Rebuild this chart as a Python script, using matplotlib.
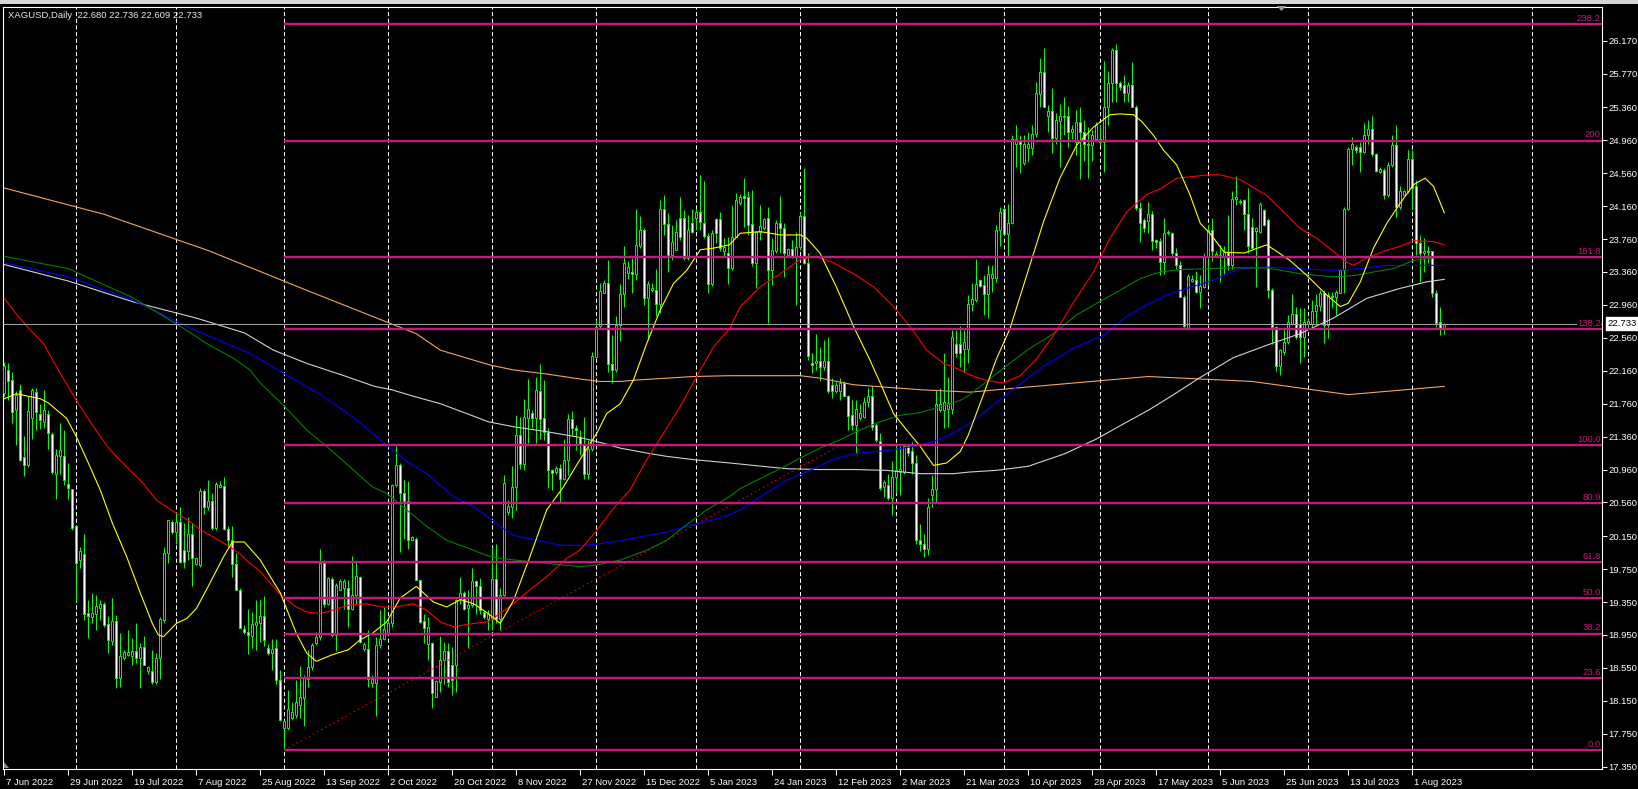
import matplotlib
matplotlib.use('Agg')
import matplotlib.pyplot as plt
from matplotlib.patches import Rectangle, Polygon
from matplotlib.transforms import ScaledTranslation
import numpy as np

plt.rcParams['font.family'] = ['Liberation Sans', 'DejaVu Sans']

symbol = "XAGUSD,Daily"

opens = [
21.89,22.17,22.05,21.68,21.93,21.11,21.01,21.59,21.90,21.63,
21.54,21.64,21.39,20.91,21.12,21.12,20.79,20.72,20.27,19.86,
19.93,19.22,19.17,19.20,19.28,19.33,19.08,18.88,19.12,18.43,
18.67,18.71,18.70,18.75,18.67,18.80,18.51,18.51,18.38,18.67,
19.13,19.95,20.32,20.20,20.32,19.98,19.97,20.18,19.81,19.80,
20.70,20.50,20.58,20.25,20.75,20.76,20.24,20.11,19.81,19.50,
19.02,18.99,18.94,19.07,19.10,19.18,18.79,18.73,18.79,18.40,
17.82,17.82,17.94,17.98,18.10,18.18,18.42,18.56,18.85,18.92,
19.83,19.33,19.63,18.95,19.50,19.52,19.52,19.27,19.44,19.66,
18.78,18.78,18.37,18.37,18.83,18.90,18.97,19.09,20.77,21.02,
20.67,20.58,20.10,20.12,19.62,19.12,18.84,18.85,18.20,18.38,
18.65,18.75,18.59,18.59,19.39,19.46,19.28,19.31,19.60,19.54,
19.23,19.15,19.14,19.63,19.15,19.44,20.44,20.51,20.75,21.38,
21.03,21.59,21.65,21.58,21.91,21.58,21.41,20.95,20.93,20.98,
20.84,21.08,21.57,21.47,21.35,21.27,20.91,21.21,22.33,22.70,
23.11,23.23,22.24,22.17,22.72,23.09,23.35,23.36,23.34,23.67,
23.87,23.04,23.14,23.14,22.97,24.12,23.94,23.57,23.63,24.01,
24.01,23.53,23.95,24.01,24.09,23.96,23.80,23.21,24.00,24.00,
23.61,23.59,23.41,23.79,24.20,24.28,24.27,23.94,23.47,23.84,
23.89,24.01,23.39,23.62,23.95,23.90,23.57,23.64,23.56,23.66,
24.04,23.47,22.26,22.26,22.28,22.20,22.28,21.99,21.92,21.91,
22.01,21.85,21.62,21.50,21.58,21.60,21.78,21.85,21.50,21.31,
20.75,20.77,20.61,20.87,20.93,20.93,21.24,21.18,21.04,20.10,
20.05,20.00,20.65,20.72,21.68,21.68,21.70,21.70,22.49,22.49,
22.42,22.42,22.97,23.02,23.26,23.20,23.09,23.29,23.29,23.87,
24.13,23.82,23.95,24.92,24.95,24.68,24.87,24.87,25.04,25.52,
25.79,25.26,25.32,24.99,25.19,25.24,25.25,25.06,24.94,25.18,
25.06,24.92,24.90,24.98,24.98,24.94,25.37,25.65,26.06,25.65,
25.63,25.54,25.63,25.37,24.14,23.99,23.98,24.07,23.75,23.74,
23.48,23.83,23.83,23.59,23.45,23.06,22.68,23.25,23.26,23.12,
23.18,23.54,23.87,23.56,23.55,23.55,23.60,23.44,24.25,24.21,
24.23,24.07,23.91,23.86,23.85,24.11,23.99,23.14,22.69,22.22,
22.39,22.51,22.73,22.85,22.73,22.57,22.73,22.73,22.88,22.95,
23.11,22.72,23.05,23.05,23.11,23.38,24.13,24.86,24.88,24.88,
24.82,25.03,25.10,24.79,24.57,24.60,24.29,24.66,24.90,24.15,
24.30,24.34,24.73,24.40,23.71,23.59,23.60,23.61,23.11,22.75,
22.680]

highs = [
22.27,22.25,22.14,21.91,22.00,21.37,21.85,21.95,21.95,21.76,
21.93,21.68,21.42,21.21,21.52,21.44,21.04,20.72,20.27,20.02,
20.18,19.38,19.46,19.43,19.37,19.35,19.18,19.40,19.19,18.97,
18.77,19.01,18.91,19.09,18.85,18.94,18.57,18.77,18.73,19.17,
20.02,20.35,20.35,20.45,20.51,20.31,20.38,20.31,19.88,20.73,
20.72,20.83,20.67,20.81,20.82,20.87,20.28,20.27,19.94,19.52,
19.07,19.27,19.23,19.37,19.39,19.42,18.84,18.90,18.90,18.53,
17.92,18.28,18.13,18.40,18.57,18.46,18.77,18.85,18.99,20.00,
19.86,19.66,19.66,19.58,19.63,19.63,19.62,19.91,19.85,19.67,
18.87,19.01,18.46,18.93,19.25,19.29,19.13,20.79,21.24,21.04,
20.83,20.82,20.15,20.14,19.62,19.21,19.17,18.87,18.40,18.94,
18.86,18.85,18.81,19.39,19.66,19.48,19.50,19.76,19.62,19.64,
19.25,19.25,20.02,20.06,19.52,20.89,20.59,21.00,21.62,21.60,
21.82,22.06,21.68,22.09,22.24,22.05,21.46,20.97,21.00,21.03,
21.33,21.64,21.67,21.50,21.44,21.60,21.32,22.39,22.78,23.22,
23.26,23.51,22.59,22.82,23.21,23.68,23.49,23.53,24.12,24.04,
23.89,23.25,23.22,23.40,24.24,24.30,24.08,23.93,23.99,24.27,
24.11,24.05,24.13,24.13,24.54,24.46,23.83,23.87,24.01,24.09,
23.77,23.79,24.17,24.32,24.31,24.50,24.34,24.36,23.86,24.17,
24.02,24.15,23.77,23.99,24.28,23.95,23.65,23.75,23.85,24.09,
24.62,23.59,22.37,22.61,22.45,22.53,22.57,22.07,22.02,22.07,
22.04,21.87,21.80,21.80,21.76,21.84,21.95,21.97,21.52,21.40,
20.83,20.91,21.06,21.24,21.24,21.27,21.26,21.30,21.14,20.30,
20.18,20.62,20.89,21.93,21.95,22.37,22.09,22.66,22.66,22.70,
22.66,23.08,23.22,23.52,23.28,23.32,23.44,23.44,23.93,24.15,
24.15,24.18,25.02,25.14,25.02,25.02,25.06,25.14,25.67,25.96,
26.08,25.39,25.59,25.29,25.40,25.49,25.38,25.15,25.33,25.36,
25.21,25.12,25.08,25.18,25.15,25.92,25.80,26.08,26.13,25.68,
25.75,25.67,25.91,25.39,24.21,24.02,24.21,24.10,23.76,23.77,
24.01,23.87,23.85,23.65,23.49,23.08,23.34,23.32,23.37,23.32,
23.59,23.93,24.01,23.61,23.69,23.67,24.05,24.34,24.52,24.25,
24.25,24.38,24.01,23.91,24.21,24.13,24.01,23.16,22.70,22.43,
22.67,22.84,23.09,22.94,22.92,22.92,22.79,23.02,23.09,23.14,
23.14,23.12,23.12,23.14,23.40,24.15,24.88,25.00,24.90,24.94,
25.17,25.21,25.25,24.80,24.63,24.62,24.70,25.03,25.15,24.41,
24.36,24.84,24.84,24.48,23.81,23.77,23.67,23.62,23.14,22.94,
22.736]

lows = [
21.85,21.80,21.53,21.26,21.06,20.88,20.99,21.33,21.44,21.45,
21.47,21.21,20.90,20.60,20.91,20.77,20.60,20.22,19.35,19.76,
19.13,18.91,19.09,19.01,19.13,19.05,18.73,18.83,18.30,18.32,
18.65,18.69,18.59,18.61,18.30,18.59,18.48,18.36,18.36,18.42,
19.09,19.83,20.18,20.06,19.82,19.76,19.86,19.54,19.80,19.78,
20.42,20.47,20.23,20.23,20.74,20.23,20.02,19.65,19.50,19.04,
18.96,18.72,18.79,18.77,18.87,18.82,18.71,18.52,18.36,17.90,
17.56,17.80,17.92,17.94,17.94,17.84,18.32,18.52,18.83,18.89,
19.29,19.31,18.93,18.75,19.50,19.27,19.05,19.25,19.33,18.85,
18.75,18.32,18.32,17.97,18.79,18.89,18.95,19.05,20.75,19.96,
20.12,19.99,20.10,19.62,19.09,18.85,18.65,18.06,18.20,18.26,
18.36,18.32,18.22,18.26,19.33,19.25,18.79,19.29,19.21,19.21,
19.15,19.01,19.01,19.09,19.01,19.42,20.41,20.37,20.47,20.97,
20.95,21.28,21.46,21.28,21.33,21.32,20.74,20.71,20.91,20.57,
20.83,20.89,21.38,21.20,21.14,20.85,20.85,21.18,22.31,22.67,
23.10,22.15,22.01,22.15,22.52,22.94,23.28,23.10,23.26,23.65,
22.96,22.55,23.12,22.82,22.86,23.81,23.36,23.50,23.63,23.75,
23.51,23.51,23.83,23.87,23.87,23.77,23.11,23.19,23.71,23.61,
23.55,23.21,23.38,23.78,24.17,23.91,23.81,23.43,23.16,23.75,
23.87,22.74,23.20,23.59,23.59,23.30,23.55,23.53,22.96,23.63,
23.46,22.29,22.13,22.17,22.03,22.17,21.89,21.83,21.89,21.80,
21.85,21.44,21.44,21.16,21.56,21.58,21.72,21.44,21.30,20.71,
20.63,20.59,20.41,20.67,20.65,20.91,21.12,20.91,20.05,19.97,
19.90,19.92,20.51,20.57,21.66,21.46,21.48,21.64,22.33,22.21,
22.15,22.25,22.88,23.00,23.18,22.84,22.80,23.12,23.24,23.68,
23.81,23.55,23.94,24.63,24.56,24.66,24.70,24.78,25.00,25.37,
25.36,25.06,24.80,24.92,24.63,25.02,24.88,24.98,24.78,24.49,
24.71,24.50,24.71,24.95,24.90,24.57,25.15,25.43,25.43,25.57,
25.43,25.43,25.36,24.11,23.72,23.85,23.83,23.63,23.65,23.32,
23.34,23.81,23.56,23.40,23.06,22.67,22.65,23.24,23.10,22.92,
23.16,23.20,23.49,23.55,23.24,23.34,23.38,23.40,24.17,24.18,
23.87,23.59,23.65,23.18,23.83,23.92,23.04,22.48,22.16,22.11,
22.35,22.49,22.72,22.55,22.25,22.33,22.67,22.67,22.72,22.88,
22.50,22.56,22.92,22.84,23.10,23.10,24.11,24.66,24.81,24.58,
24.80,24.92,24.77,24.57,24.56,24.25,24.27,24.64,24.03,24.13,
24.29,24.32,24.11,23.57,23.24,23.36,23.47,23.06,22.69,22.60,
22.609]

closes = [
22.22,22.03,21.66,21.87,21.08,21.02,21.67,21.93,21.66,21.56,
21.68,21.40,20.93,21.14,21.20,20.83,20.73,20.25,19.83,19.97,
19.20,19.18,19.22,19.30,19.33,19.07,18.89,19.12,18.43,18.69,
18.74,18.74,18.75,18.67,18.80,18.59,18.56,18.38,18.67,19.14,
19.95,20.35,20.20,20.32,19.84,19.84,20.18,19.89,19.88,20.70,
20.50,20.58,20.25,20.79,20.77,20.24,20.11,19.81,19.50,19.04,
18.99,18.95,19.08,19.11,19.18,18.89,18.73,18.78,18.40,17.92,
17.90,18.05,18.01,18.14,18.20,18.44,18.56,18.83,18.92,19.83,
19.33,19.64,18.95,19.56,19.60,19.60,19.27,19.44,19.67,18.86,
18.84,18.42,18.42,18.83,18.90,19.02,19.10,20.77,21.02,20.67,
20.58,20.11,20.14,19.62,19.11,19.04,19.05,18.25,18.39,18.65,
18.75,18.38,18.40,19.37,19.46,19.27,19.31,19.60,19.54,19.25,
19.17,19.21,19.63,19.14,19.44,20.80,20.52,20.75,21.38,21.03,
21.60,21.69,21.58,21.93,21.57,21.41,20.95,20.92,20.98,20.85,
21.08,21.57,21.47,21.44,21.27,20.91,21.21,22.34,22.69,23.13,
23.23,22.24,22.17,22.72,23.09,23.47,23.42,23.33,23.69,23.87,
23.04,23.21,23.17,22.97,24.12,23.94,23.57,23.73,23.85,23.79,
23.53,23.87,23.85,24.09,23.97,23.80,23.21,23.83,23.83,23.65,
23.66,23.41,23.79,24.24,24.27,24.26,23.93,23.47,23.84,23.92,
24.00,23.39,23.63,23.96,23.90,23.59,23.64,23.56,23.66,24.04,
23.47,22.34,22.23,22.28,22.20,22.28,21.92,21.92,21.99,22.01,
21.85,21.61,21.50,21.70,21.65,21.78,21.85,21.48,21.32,20.74,
20.81,20.61,20.87,20.95,20.97,21.25,21.16,21.04,20.10,20.05,
20.00,20.51,20.72,21.76,21.76,21.78,21.77,22.57,22.37,22.38,
22.51,22.97,23.03,23.21,23.19,23.09,23.33,23.33,23.87,24.09,
23.82,23.95,24.97,24.97,24.91,24.92,24.92,25.04,25.53,25.79,
25.37,25.32,24.99,25.21,25.25,25.25,25.06,25.10,25.18,25.06,
24.91,24.90,25.03,25.15,24.94,25.37,25.65,26.06,25.65,25.61,
25.54,25.63,25.37,24.14,23.96,23.90,24.07,23.74,23.72,23.48,
23.83,23.85,23.59,23.44,23.06,22.70,23.31,23.28,23.12,23.19,
23.55,23.87,23.61,23.58,23.57,23.60,23.44,24.25,24.27,24.22,
24.07,23.67,23.65,23.90,24.18,23.93,23.14,22.69,22.22,22.41,
22.51,22.75,22.85,22.57,22.57,22.75,22.76,22.89,22.96,23.11,
22.72,23.08,23.07,23.12,23.38,24.13,24.86,24.92,24.84,24.82,
25.03,25.10,24.79,24.59,24.61,24.29,24.66,24.90,24.15,24.34,
24.34,24.73,24.38,23.71,23.59,23.61,23.61,23.11,22.74,22.68,
22.733]

# moving averages (bar index, value)
ma_yellow_x = [0, 3, 9, 11, 15.6, 18, 21, 24, 27, 30.6, 34, 37, 38.5, 39.8, 43, 45.6, 48, 51.4, 54.8, 57,
               60, 64, 69, 73, 75.6, 78, 82, 86, 88.9, 92, 95.6, 99, 103, 107.3, 110.6, 114, 117.3, 121,
               124, 127.3, 131.4, 135.6, 139.8, 143.9, 148.1, 150.6, 154, 157.3, 160.6, 164, 167.3, 170.6,
               174, 177.3, 181.3, 184, 189, 194, 199, 200.6, 203.9, 208, 212.3, 216.4, 219, 222.3, 225.6,
               229, 232.3, 235.6, 239, 241, 245, 248, 251.4, 255.6, 259.8, 263.9, 268.1, 272.3, 276.4, 279,
               282.3, 284.3, 287.3, 289.8, 293.1, 296.4, 299, 301.4, 305, 310, 315.6, 318.1, 321.4, 325.6,
               330.6, 334, 336, 339, 342.3, 345.6, 348.9, 352.3, 355.2, 357.3, 360]
ma_yellow_y = [21.82, 21.88, 21.82, 21.77, 21.58, 21.36, 21.04, 20.71, 20.31, 19.90, 19.46, 19.09, 18.95, 18.93,
               19.09, 19.15, 19.27, 19.58, 19.90, 20.08, 20.08, 19.86, 19.46, 18.97, 18.73, 18.63, 18.71, 18.77,
               18.89, 18.97, 19.11, 19.40, 19.54, 19.35, 19.29, 19.38, 19.33, 19.21, 19.09, 19.37, 19.90, 20.47,
               20.75, 21.08, 21.40, 21.64, 21.76, 22.05, 22.49, 22.90, 23.22, 23.38, 23.63, 23.65, 23.69, 23.83,
               23.85, 23.81, 23.81, 23.77, 23.59, 23.18, 22.70, 22.29, 22.01, 21.64, 21.44, 21.24, 21.01, 21.04,
               21.18, 21.38, 21.90, 22.30, 22.67, 23.32, 23.97, 24.50, 24.90, 25.12, 25.27, 25.28, 25.27, 25.19,
               25.02, 24.84, 24.66, 24.30, 23.95, 23.83, 23.60, 23.59, 23.69, 23.61, 23.50, 23.32, 23.08, 22.94,
               22.98, 23.24, 23.65, 23.95, 24.19, 24.42, 24.50, 24.40, 24.08]

ma_red_x = [0, 3, 6.4, 9.8, 14, 18, 22.3, 26.4, 30.6, 34.8, 38, 42.3, 46.4, 48.9, 52.3, 56.4, 59, 61.4, 64, 69,
            73, 75.6, 79, 82, 86, 90.3, 94.4, 98, 102.3, 105.6, 109, 112.3, 117.3, 121, 127.3, 131.4, 135.6,
            140.6, 143.9, 148.1, 152.3, 156.4, 160.6, 164.8, 168.9, 173.1, 177.3, 181.3, 184, 189, 194, 199,
            203, 207.3, 212.3, 217.3, 222.3, 226.4, 230.6, 234.8, 239, 241.4, 245, 249.7, 254, 258, 262.3,
            267.3, 272.3, 276.4, 280.6, 285.6, 289, 293.1, 297.3, 301, 304, 309, 315.6, 319.8, 323.9, 328.1,
            332.3, 334.8, 337.3, 340.6, 344.8, 348.9, 352.3, 357.3, 360]
ma_red_y = [23.04, 22.85, 22.66, 22.49, 22.13, 21.80, 21.48, 21.20, 20.99, 20.79, 20.59, 20.45, 20.33, 20.23,
            20.14, 20.02, 19.93, 19.82, 19.72, 19.44, 19.29, 19.23, 19.21, 19.25, 19.31, 19.33, 19.29, 19.29,
            19.33, 19.25, 19.11, 19.05, 19.09, 19.11, 19.33, 19.50, 19.66, 19.88, 19.98, 20.22, 20.49, 20.71,
            21.08, 21.40, 21.72, 22.09, 22.45, 22.67, 22.94, 23.18, 23.34, 23.51, 23.55, 23.47, 23.34, 23.18,
            22.94, 22.70, 22.41, 22.25, 22.17, 22.11, 22.05, 22.01, 22.10, 22.30, 22.59, 22.99, 23.36, 23.77,
            24.09, 24.30, 24.37, 24.50, 24.52, 24.54, 24.54, 24.48, 24.29, 24.09, 23.89, 23.77, 23.61, 23.50,
            23.44, 23.53, 23.61, 23.67, 23.74, 23.73, 23.69]

ma_green_x = [0, 16, 32, 44, 50.6, 57.3, 61.4, 64, 69.8, 75.6, 80.6, 86, 92, 95.6, 100.6, 105.6, 110.6, 117.3,
              121, 124, 135.6, 143.9, 148.1, 154, 160.6, 165.6, 170.6, 175.6, 181.3, 184, 189, 194, 199, 203.9,
              208.9, 213.9, 218.9, 223.9, 228.9, 233.9, 239, 241.4, 250, 256, 262.3, 268.1, 273.9, 279, 284,
              289, 294, 301, 307.3, 315.6, 323.9, 332.3, 338.1, 342.3, 347.3, 352.3, 357.3, 360]
ma_green_y = [23.55, 23.40, 23.05, 22.70, 22.49, 22.31, 22.17, 22.01, 21.74, 21.44, 21.24, 21.01, 20.75, 20.67,
              20.47, 20.27, 20.10, 19.98, 19.91, 19.88, 19.82, 19.78, 19.80, 19.86, 19.98, 20.10, 20.29, 20.47,
              20.63, 20.73, 20.85, 20.97, 21.10, 21.22, 21.32, 21.44, 21.54, 21.62, 21.65, 21.72, 21.80, 21.87,
              22.20, 22.42, 22.61, 22.84, 23.00, 23.14, 23.28, 23.36, 23.39, 23.40, 23.41, 23.41, 23.34, 23.30,
              23.32, 23.36, 23.40, 23.50, 23.53, 23.55]

ma_blue_x = [0, 16, 32, 47.3, 55.6, 61.4, 69.8, 79.8, 88.1, 94, 100.6, 105.6, 112.3, 117.3, 121, 124, 127.3,
             132.3, 139, 145.6, 152.3, 158.9, 165.6, 172.3, 177.3, 181.3, 184, 189, 195.6, 202.3, 208.1, 213.9,
             220.6, 227.3, 232.3, 237.3, 241.4, 250, 260, 268, 274.8, 280.6, 285.6, 290.6, 295.6, 301, 304, 309,
             315.6, 323.9, 332.3, 339, 345.6, 352.3, 360]
ma_blue_y = [23.47, 23.30, 23.02, 22.66, 22.49, 22.37, 22.13, 21.85, 21.56, 21.32, 21.06, 20.91, 20.63, 20.51,
             20.38, 20.27, 20.16, 20.11, 20.04, 20.04, 20.08, 20.14, 20.20, 20.29, 20.35, 20.41, 20.47, 20.63,
             20.83, 20.97, 21.10, 21.16, 21.19, 21.24, 21.30, 21.40, 21.52, 21.85, 22.22, 22.45, 22.59, 22.82,
             22.96, 23.08, 23.16, 23.24, 23.30, 23.40, 23.42, 23.40, 23.38, 23.40, 23.44, 23.44, 23.44]

ma_white_x = [0, 16, 32, 48, 60, 67.3, 75.6, 84.3, 92.6, 96.8, 102.3, 109, 115.6, 121, 127.3, 135.6, 143.9,
              149.7, 154, 160.6, 165.6, 172.3, 181.3, 187.3, 195.6, 203.9, 212.3, 220.6, 228.9, 237.3, 241.4,
              248, 256, 265, 273, 280, 286, 292, 299, 307.3, 315.6, 323.9, 332.3, 340.6, 348.9, 355.6, 360]
ma_white_y = [23.45, 23.25, 23.00, 22.80, 22.62, 22.41, 22.25, 22.11, 21.97, 21.93, 21.85, 21.76, 21.64, 21.54,
              21.48, 21.42, 21.35, 21.28, 21.22, 21.16, 21.12, 21.08, 21.04, 21.01, 20.97, 20.96, 20.96, 20.95,
              20.91, 20.91, 20.93, 20.95, 21.00, 21.15, 21.33, 21.52, 21.68, 21.86, 22.08, 22.32, 22.47, 22.61,
              22.80, 23.04, 23.16, 23.24, 23.27]

ma_orange_x = [0, 25, 51, 77, 103, 109, 121.4, 127.3, 135.6, 143.9, 148.9, 154, 158.9, 165.6, 172.3, 181.3,
               199, 203.9, 212.3, 220.6, 228.9, 237.3, 241.4, 260, 286, 312, 336, 360]
ma_orange_y = [24.38, 24.06, 23.62, 23.11, 22.61, 22.41, 22.23, 22.17, 22.12, 22.06, 22.03, 22.03, 22.05, 22.07,
               22.09, 22.10, 22.10, 22.07, 21.99, 21.96, 21.93, 21.91, 21.90, 21.98, 22.09, 22.03, 21.87, 21.97]

fib_levels = [0.0, 23.6, 38.2, 50.0, 61.8, 80.9, 100.0, 138.2, 161.8, 200.0, 238.2]
fib_labels = ['0.0', '23.6', '38.2', '50.0', '61.8', '80.9', '100.0', '138.2', '161.8', '200', '238.2']
fib_low, fib_high = 17.553, 21.255
fib_bar_low, fib_bar_high = 70, 209

date_labels = ['7 Jun 2022', '29 Jun 2022', '19 Jul 2022', '7 Aug 2022', '25 Aug 2022', '13 Sep 2022',
               '2 Oct 2022', '20 Oct 2022', '8 Nov 2022', '27 Nov 2022', '15 Dec 2022', '5 Jan 2023',
               '24 Jan 2023', '12 Feb 2023', '2 Mar 2023', '21 Mar 2023', '10 Apr 2023', '28 Apr 2023',
               '17 May 2023', '5 Jun 2023', '25 Jun 2023', '13 Jul 2023', '1 Aug 2023']
bars_per_label = 16
month_start_bars = [18, 43, 70, 96, 122, 148, 173, 199, 223, 250, 274, 301, 326, 352, 382]
price_ticks = [26.17, 25.77, 25.36, 24.96, 24.56, 24.16, 23.76, 23.36, 22.96, 22.56, 22.16, 21.76,
               21.36, 20.96, 20.56, 20.15, 19.75, 19.35, 18.95, 18.55, 18.15, 17.75, 17.35]

# ---------------------------------------------------------------- figure
W, H = 1638, 789
fig = plt.figure(figsize=(W / 100, H / 100), dpi=100, facecolor='black')
L, R, T, B = 3, 1601.7, 7, 769
ax = fig.add_axes([L / W, 1 - B / H, (R - L) / W, (B - T) / H])
ax.set_facecolor('black')
ax.set_xlim(-0.33, 399.35)
ax.set_ylim(17.322, 26.579)
for s in ax.spines.values():
    s.set_color('white')
    s.set_linewidth(0.8)

FS = 6.8
GREEN = '#00ff00'
FIB = '#c8157f'

# grid (month separators)
for g in month_start_bars:
    ax.axvline(g, color='white', lw=0.75, ls=(0, (4, 2.4)), zorder=1)

# candles
n = min(len(opens), len(highs), len(lows), len(closes))
o = np.array(opens[:n]); h = np.array(highs[:n]); l = np.array(lows[:n]); c = np.array(closes[:n])
x = np.arange(n)
lo = np.minimum(l, np.minimum(o, c))
hi = np.maximum(h, np.maximum(o, c))
ax.vlines(x, lo, hi, color=GREEN, lw=0.75, zorder=3)
bull = c >= o
ax.bar(x, np.abs(c - o), bottom=np.minimum(o, c), width=0.55,
       color=np.where(bull, 'black', 'white'), edgecolor=GREEN, linewidth=0.7, zorder=4)

# moving averages
for mx, my, col in [(ma_orange_x, ma_orange_y, '#f4a460'), (ma_white_x, ma_white_y, '#d0d0d0'),
                    (ma_blue_x, ma_blue_y, '#0000ff'), (ma_green_x, ma_green_y, '#008000'),
                    (ma_red_x, ma_red_y, '#ff0000'), (ma_yellow_x, ma_yellow_y, '#ffff00')]:
    ax.plot(mx, my, color=col, lw=0.8, zorder=5)

# current price line
last_close = closes[-1]
ax.axhline(last_close, color='#a0a0a0', lw=0.75, zorder=5)

# fibonacci
ax.plot([fib_bar_low, fib_bar_high], [fib_low, fib_high], color='#ff0000', lw=0.8,
        ls=(0, (1.2, 3)), zorder=6)
for lev, lab in zip(fib_levels, fib_labels):
    p = fib_low + lev / 100.0 * (fib_high - fib_low)
    ax.hlines(p, fib_bar_low, 399.35, color=FIB, lw=1.7, zorder=6)
    ax.annotate(lab, xy=(399.1, p), xytext=(0, 0.8), textcoords='offset points', ha='right', va='bottom',
                color=FIB, fontsize=FS, zorder=7,
                bbox=dict(boxstyle='square,pad=0', fc='black', ec='none'))

# axes ticks
ax.yaxis.tick_right()
ax.set_yticks(price_ticks)
ax.set_yticklabels(['%.3f' % v for v in price_ticks])
ax.tick_params(axis='y', colors='white', length=3.5, width=0.75, labelsize=FS, pad=1.5, direction='out')
ax.set_xticks([k * bars_per_label for k in range(len(date_labels))])
ax.set_xticklabels(date_labels)
ax.tick_params(axis='x', colors='white', length=4, width=0.75, labelsize=FS, pad=2.5, direction='out')
off = ScaledTranslation(1.5 / 100, 0, fig.dpi_scale_trans)
for lbl in ax.get_xticklabels():
    lbl.set_ha('left')
    lbl.set_transform(lbl.get_transform() + off)

# current price tag
ax.annotate('%.3f' % last_close, xy=(1, last_close), xycoords=ax.get_yaxis_transform(),
            xytext=(4, 0), textcoords='offset points', ha='left', va='center', fontsize=FS, color='black',
            bbox=dict(boxstyle='square,pad=0.18', fc='white', ec='white'), annotation_clip=False, zorder=10)

# header text
fig.text(7.5 / W, 1 - 15.5 / H, '%s  %.3f %.3f %.3f %.3f' % (symbol, opens[-1], highs[-1], lows[-1], closes[-1]),
         color='#e8e8e8', fontsize=FS, va='center', ha='left')

# window chrome bits
fig.add_artist(Rectangle((0, 1 - 4 / H), 1, 4 / H, transform=fig.transFigure, color='#d6d6d6', lw=0))
fig.add_artist(Polygon([(1277 / W, 1 - 6 / H), (1286 / W, 1 - 6 / H), (1281.5 / W, 1 - 11 / H)],
                       closed=True, transform=fig.transFigure, color='#9a9aa0', lw=0))
fig.add_artist(Polygon([(4 / W, 1 - 768 / H), (4 / W, 1 - 762 / H), (9 / W, 1 - 768 / H)],
                       closed=True, transform=fig.transFigure, color='#8a8a9a', lw=0))

fig.savefig('out.png', dpi=100, facecolor='black')
